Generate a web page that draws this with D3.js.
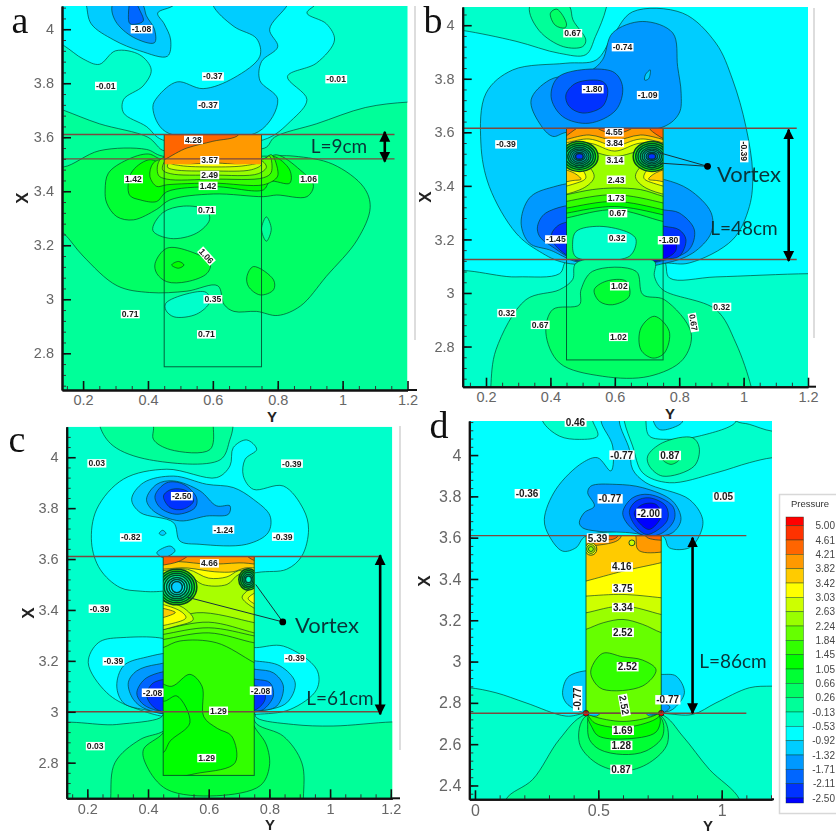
<!DOCTYPE html>
<html><head><meta charset="utf-8">
<script src="https://cdn.jsdelivr.net/npm/d3@7/dist/d3.min.js"></script>
<style>
html,body{margin:0;padding:0;background:#fff;overflow:hidden}
svg{display:block}
.field{filter:blur(.6px)}
</style></head><body>
<svg id="chart" width="836" height="836"></svg>
<script>
/* ---------- legend ---------- */
const legendLevels = [5.00,4.61,4.21,3.82,3.42,3.03,2.63,2.24,1.84,1.45,1.05,0.66,0.26,-0.13,-0.53,-0.92,-1.32,-1.71,-2.11,-2.50];
const colorStops = [-2.5,-0.53,1.45,3.42,5.39];
const colorRange = ["#0000ff","#00ffff","#00ff00","#ffff00","#ff0000"];

/* ---------- panel a : rings are [level, [[Y,X],...]] ---------- */
const ringsA = [
 [-0.13,[[.05,3.74],[.14,3.70],[.25,3.65],[.40,3.60],[.45,3.55],[.5,3.58],[.76,3.56],[.79,3.60],[.92,3.65],[1.07,3.71],[1.2,3.73],[1.3,3.73],[1.3,4.2],[.05,4.2]]],
 [-0.53,[[.05,4.0],[.14,3.94],[.2,3.89],[.25,3.87],[.30,3.92],[.375,3.905],[.41,3.85],[.385,3.79],[.325,3.74],[.325,3.69],[.395,3.64],[.445,3.59],[.755,3.59],[.84,3.66],[.89,3.74],[.83,3.825],[.92,3.875],[.975,3.96],[.95,4.02],[.89,4.06],[.92,4.1],[.9,4.2],[.05,4.2]]],
 [-0.92,[[.2,4.15],[.21,4.09],[.225,4.02],[.295,3.96],[.375,3.92],[.46,3.90],[.47,3.96],[.45,4.02],[.43,4.06],[.48,4.09],[.5,4.15]]],
 [-0.92,[[.6,4.15],[.6,4.09],[.665,4.01],[.735,3.965],[.745,3.90],[.665,3.82],[.57,3.78],[.49,3.805],[.43,3.75],[.415,3.71],[.455,3.62],[.74,3.62],[.8,3.74],[.745,3.81],[.75,3.88],[.8,3.935],[.775,4.0],[.83,4.09],[.85,4.15]]],
 [-1.32,[[.29,4.09],[.3,4.03],[.355,3.97],[.42,3.95],[.42,4.0],[.395,4.05],[.385,4.09],[.34,4.15]]],
 [-1.71,[[.34,4.06],[.345,4.02],[.385,4.03],[.375,4.07],[.35,4.12]]],
 [0.66,[[.08,3.5],[.14,3.49],[.25,3.55],[.395,3.555],[.445,3.53],[.755,3.53],[.85,3.53],[.97,3.50],[1.065,3.415],[1.085,3.34],[1.045,3.22],[.95,3.085],[.87,2.975],[.8,2.94],[.735,2.955],[.665,2.955],[.635,2.98],[.615,3.05],[.52,3.03],[.405,3.025],[.305,3.05],[.2,3.16],[.14,3.245],[.08,3.3]]],
 [0.26,[[.415,3.255],[.445,3.32],[.51,3.345],[.58,3.33],[.59,3.295],[.55,3.245],[.47,3.225]]],
 [0.26,[[.765,3.305],[.78,3.26],[.765,3.215],[.75,3.26]]],
 [-0.13,[[.455,2.985],[.52,3.02],[.58,3.025],[.59,2.99],[.55,2.945],[.48,2.935],[.455,2.96]]],
 [1.05,[[.268,3.405],[.278,3.467],[.335,3.516],[.401,3.538],[.448,3.516],[.756,3.516],[.797,3.535],[.869,3.479],[.91,3.423],[.89,3.38],[.797,3.386],[.756,3.38],[.602,3.39],[.468,3.368],[.427,3.333],[.355,3.294],[.304,3.306],[.273,3.356]]],
 [1.05,[[.422,3.133],[.458,3.189],[.53,3.177],[.592,3.133],[.582,3.096],[.52,3.065],[.458,3.065],[.427,3.096]]],
 [1.45,[[.473,3.127],[.494,3.14],[.511,3.127],[.494,3.115]]],
 [1.05,[[.705,3.084],[.725,3.121],[.787,3.072],[.787,3.035],[.746,3.016],[.71,3.047]]],
 [1.45,[[.343,3.386],[.348,3.467],[.401,3.516],[.448,3.504],[.756,3.504],[.786,3.529],[.837,3.479],[.837,3.43],[.776,3.436],[.756,3.405],[.602,3.417],[.458,3.398],[.427,3.362],[.376,3.368]]],
 [1.84,[[.406,3.455],[.416,3.504],[.448,3.52],[.756,3.52],[.781,3.535],[.801,3.467],[.796,3.449],[.756,3.424],[.602,3.43],[.458,3.424],[.427,3.418]]],
 [2.24,[[.432,3.46],[.44,3.52],[.756,3.52],[.775,3.53],[.78,3.47],[.756,3.45],[.602,3.445],[.458,3.445]]],
 [2.63,[[.445,3.48],[.46,3.52],[.74,3.52],[.765,3.49],[.74,3.465],[.6,3.46],[.47,3.465]]],
 [3.03,[[.46,3.49],[.48,3.525],[.73,3.525],[.75,3.50],[.72,3.48],[.6,3.475],[.48,3.48]]],
 [3.42,[[.47,3.505],[.49,3.53],[.72,3.53],[.745,3.51],[.7,3.495],[.6,3.49],[.5,3.495]]]
];
const wallRingsA = [
 [4.21,[[.38,3.51],[.6,3.505],[.82,3.51],[.82,3.7],[.38,3.7]]],
 [4.61,[[.38,3.49],[.52,3.56],[.6,3.585],[.68,3.61],[.68,3.68],[.38,3.68]]]
];
const wallA = [.45,.75,3.50,3.61];
const wallBaseA = [];
const eddiesA = [];
const tagsA = [["-1.08",.38,4.0,0],["-0.37",.6,3.825,0],["-0.37",.585,3.72,0],["-0.01",.27,3.79,0],["-0.01",.98,3.815,0],["4.28",.54,3.59,0],["3.57",.59,3.515,0],["2.49",.59,3.46,0],["1.42",.585,3.42,0],["1.42",.355,3.445,0],["1.06",.895,3.445,0],["0.71",.58,3.33,0],["1.06",.58,3.16,48],["0.35",.6,3.0,0],["0.71",.345,2.945,0],["0.71",.58,2.87,0]];

/* ---------- panel b ---------- */
const ringsB = [
 [-0.13,[[.05,3.06],[.293,3.06],[.428,3.072],[.454,3.125],[.749,3.125],[.77,3.056],[.914,3.06],[1.2,3.072],[1.3,3.07],[1.3,2.5],[.05,2.5]]],
 [-0.13,[[.05,3.99],[.13,3.98],[.293,3.94],[.428,3.895],[.51,3.89],[.54,3.958],[.573,4.063],[.58,4.15],[.05,4.15]]],
 [0.26,[[.335,4.07],[.365,3.98],[.44,3.92],[.5,3.92],[.51,3.945],[.47,4.02],[.46,4.07],[.4,4.15]]],
 [0.66,[[.4,4.045],[.42,4.06],[.45,4.005],[.445,3.99],[.415,4.0]]],
 [-0.92,[[.655,4.05],[.811,4.045],[.914,3.933],[.966,3.796],[1.007,3.622],[1.028,3.448],[1.018,3.323],[.966,3.199],[.831,3.112],[.754,3.112],[.448,3.112],[.366,3.155],[.293,3.224],[.21,3.398],[.184,3.56],[.2,3.746],[.283,3.833],[.448,3.858],[.542,3.87],[.593,3.958]]],
 [-1.32,[[.34,3.721],[.398,3.796],[.52,3.827],[.562,3.871],[.593,3.971],[.687,4.014],[.78,3.971],[.795,3.846],[.806,3.746],[.8,3.672],[.75,3.62],[.45,3.6],[.407,3.585],[.366,3.634]]],
 [-0.92,[[.695,3.815],[.71,3.833],[.705,3.80],[.693,3.795]]],
 [-1.71,[[.402,3.734],[.428,3.81],[.593,3.827],[.624,3.771],[.604,3.684],[.52,3.634],[.438,3.659]]],
 [-2.11,[[.448,3.74],[.48,3.784],[.562,3.79],[.578,3.759],[.562,3.697],[.5,3.672],[.458,3.697]]],
 [-1.32,[[.309,3.261],[.335,3.355],[.397,3.392],[.5,3.40],[.5,3.12],[.397,3.161],[.335,3.186]]],
 [-1.71,[[.36,3.249],[.386,3.299],[.5,3.32],[.5,3.12],[.397,3.18],[.366,3.212]]],
 [-2.11,[[.402,3.211],[.428,3.255],[.5,3.26],[.5,3.12],[.43,3.16]]],
 [-1.32,[[.755,3.423],[.831,3.386],[.899,3.3],[.899,3.224],[.842,3.149],[.759,3.112],[.7,3.11],[.7,3.43]]],
 [-1.71,[[.754,3.31],[.8,3.299],[.847,3.236],[.831,3.162],[.759,3.124],[.7,3.12],[.7,3.32]]],
 [-2.11,[[.754,3.249],[.8,3.236],[.821,3.199],[.8,3.137],[.754,3.127],[.7,3.12],[.7,3.26]]],
 [-2.50,[[.754,3.187],[.785,3.199],[.79,3.16],[.759,3.13],[.7,3.12],[.7,3.19]]],
 [0.26,[[.215,2.6],[.215,2.652],[.231,2.788],[.324,2.975],[.428,3.012],[.469,3.05],[.48,3.112],[.723,3.118],[.723,3.062],[.749,3.012],[.914,2.938],[.976,2.813],[1.023,2.652],[1.03,2.6]]],
 [0.66,[[.495,3.012],[.531,3.081],[.666,3.081],[.687,2.994],[.754,2.975],[.837,2.851],[.811,2.751],[.707,2.689],[.562,2.689],[.428,2.739],[.386,2.851],[.407,2.938],[.49,2.956]]],
 [1.05,[[.536,3.012],[.573,3.044],[.635,3.044],[.645,2.988],[.593,2.956],[.552,2.969]]],
 [1.05,[[.681,2.869],[.723,2.913],[.769,2.857],[.754,2.776],[.718,2.757],[.681,2.788]]]
];
const wallRingsB = [
 [-0.13,[[.469,3.187],[.48,3.23],[.552,3.249],[.645,3.224],[.666,3.199],[.645,3.137],[.48,3.134]]],
 [1.05,[[.38,3.26],[.45,3.28],[.6,3.311],[.75,3.267],[.82,3.25],[.82,3.75],[.38,3.75]]],
 [1.45,[[.38,3.28],[.45,3.298],[.6,3.323],[.75,3.292],[.82,3.27],[.82,3.75],[.38,3.75]]],
 [1.84,[[.38,3.30],[.45,3.317],[.6,3.342],[.75,3.311],[.82,3.29],[.82,3.75],[.38,3.75]]],
 [2.24,[[.38,3.32],[.45,3.342],[.6,3.367],[.75,3.336],[.82,3.31],[.82,3.75],[.38,3.75]]],
 [2.63,[[.38,3.35],[.45,3.367],[.53,3.386],[.6,3.392],[.68,3.386],[.75,3.361],[.82,3.34],[.82,3.75],[.38,3.75]]],
 [3.03,[[.38,3.515],[.5,3.49],[.536,3.435],[.5,3.39],[.38,3.37]]],
 [3.42,[[.38,3.495],[.49,3.47],[.51,3.43],[.48,3.41],[.38,3.395]]],
 [3.82,[[.38,3.47],[.47,3.45],[.495,3.425],[.47,3.42],[.38,3.41]]],
 [3.03,[[.82,3.515],[.7,3.49],[.664,3.435],[.7,3.39],[.82,3.37]]],
 [3.42,[[.82,3.495],[.71,3.47],[.69,3.43],[.72,3.41],[.82,3.395]]],
 [3.82,[[.82,3.47],[.73,3.45],[.705,3.425],[.73,3.42],[.82,3.41]]],
 [3.03,[[.38,3.52],[.5,3.535],[.6,3.51],[.7,3.535],[.82,3.52],[.82,3.75],[.38,3.75]]],
 [3.42,[[.38,3.55],[.52,3.56],[.6,3.53],[.68,3.56],[.82,3.55],[.82,3.75],[.38,3.75]]],
 [3.82,[[.38,3.56],[.52,3.575],[.6,3.55],[.68,3.575],[.82,3.56],[.82,3.75],[.38,3.75]]],
 [4.21,[[.38,3.57],[.52,3.59],[.6,3.57],[.68,3.59],[.82,3.57],[.82,3.75],[.38,3.75]]],
 [4.61,[[.40,3.56],[.47,3.605],[.5,3.64],[.40,3.68]]],
 [4.61,[[.54,3.625],[.6,3.595],[.66,3.625],[.6,3.68]]],
 [4.61,[[.80,3.56],[.71,3.61],[.70,3.64],[.80,3.68]]]
];
const wallB = [.45,.75,3.125,3.615];
const wallBaseB = [0.66];
const eddiesB = [
 [.49,3.51,.058,.056,1.84],[.49,3.51,.05,.048,1.05],[.49,3.51,.043,.041,.66],[.49,3.51,.036,.034,.26],[.49,3.51,.03,.028,-.13],[.49,3.51,.024,.022,-.53],[.49,3.51,.018,.016,-1.32],[.49,3.51,.012,.011,-2.11],
 [.715,3.51,.058,.056,1.84],[.715,3.51,.05,.048,1.05],[.715,3.51,.043,.041,.66],[.715,3.51,.036,.034,.26],[.715,3.51,.03,.028,-.13],[.715,3.51,.024,.022,-.53],[.715,3.51,.018,.016,-1.32],[.715,3.51,.012,.011,-2.11]
];
const tagsB = [["0.67",.469,3.97,0],["-0.74",.624,3.918,0],["-1.80",.531,3.761,0],["-1.09",.702,3.739,0],["-0.39",.262,3.555,0],["-0.39",1.002,3.529,90],["4.55",.598,3.6,0],["3.84",.599,3.56,0],["3.14",.6,3.495,0],["2.43",.604,3.423,0],["1.73",.604,3.354,0],["0.67",.609,3.298,0],["-1.45",.417,3.2,0],["0.32",.607,3.204,0],["-1.80",.767,3.197,0],["1.02",.614,3.025,0],["0.32",.264,2.925,0],["0.67",.368,2.881,0],["0.32",.932,2.948,0],["0.67",.844,2.89,80],["1.02",.611,2.836,0]];

/* ---------- panel c ---------- */
const ringsC = [
 [0.26,[[.242,4.12],[.285,4.045],[.405,3.99],[.638,3.99],[.67,4.07],[.68,4.12],[.68,4.2],[.24,4.2]]],
 [0.66,[[.418,4.12],[.418,4.07],[.473,4.03],[.604,4.03],[.615,4.12],[.6,4.2],[.4,4.2]]],
 [-0.53,[[.214,3.664],[.231,3.796],[.319,3.914],[.462,3.953],[.626,3.92],[.67,3.966],[.681,4.038],[.725,4.068],[.758,4.031],[.72,3.992],[.714,3.927],[.747,3.874],[.846,3.887],[.912,3.796],[.929,3.717],[.907,3.612],[.857,3.56],[.758,3.547],[.45,3.474],[.374,3.474],[.308,3.488],[.242,3.56]]],
 [-0.92,[[.346,3.835],[.385,3.9],[.484,3.926],[.593,3.894],[.681,3.881],[.747,3.835],[.802,3.77],[.796,3.704],[.725,3.658],[.571,3.658],[.505,3.671],[.484,3.743],[.374,3.783]]],
 [-0.92,[[.429,3.625],[.473,3.651],[.489,3.632],[.451,3.606]]],
 [-0.92,[[.437,3.7],[.448,3.713],[.459,3.701],[.448,3.693]]],
 [-1.32,[[.395,3.835],[.429,3.894],[.484,3.907],[.571,3.868],[.626,3.809],[.67,3.809],[.665,3.776],[.593,3.769],[.505,3.75],[.418,3.789]]],
 [-1.71,[[.423,3.848],[.462,3.9],[.516,3.894],[.56,3.841],[.555,3.802],[.495,3.776],[.44,3.802]]],
 [-2.11,[[.451,3.848],[.478,3.874],[.527,3.868],[.55,3.828],[.516,3.796],[.473,3.802]]],
 [-0.53,[[.203,3.193],[.236,3.271],[.308,3.291],[.5,3.26],[.5,2.99],[.352,3.016],[.264,3.075]]],
 [-0.92,[[.297,3.101],[.319,3.18],[.385,3.212],[.5,3.22],[.5,3.0],[.385,3.009],[.319,3.035]]],
 [-1.32,[[.335,3.114],[.362,3.16],[.429,3.186],[.5,3.186],[.5,3.0],[.396,3.009],[.352,3.048]]],
 [-1.71,[[.363,3.075],[.396,3.134],[.5,3.153],[.5,3.0],[.418,3.009],[.379,3.035]]],
 [-2.11,[[.396,3.062],[.418,3.114],[.5,3.12],[.5,3.0],[.429,3.009]]],
 [-0.53,[[.758,3.252],[.846,3.258],[.956,3.166],[.956,3.088],[.868,3.009],[.758,2.99],[.7,2.99],[.7,3.25]]],
 [-0.92,[[.758,3.199],[.835,3.18],[.885,3.114],[.857,3.035],[.769,3.003],[.7,3.0],[.7,3.2]]],
 [-1.32,[[.758,3.166],[.813,3.153],[.846,3.101],[.824,3.022],[.758,3.003],[.7,3.0],[.7,3.17]]],
 [-1.71,[[.758,3.127],[.802,3.114],[.813,3.062],[.78,3.009],[.758,3.003],[.7,3.0],[.7,3.13]]],
 [-2.11,[[.758,3.101],[.78,3.088],[.786,3.049],[.758,3.01],[.7,3.0],[.7,3.1]]],
 [0.26,[[.05,2.93],[.297,2.95],[.44,2.976],[.46,3.0],[.747,3.0],[.758,2.976],[.879,2.95],[1.01,2.944],[1.204,2.96],[1.3,2.96],[1.3,2.5],[.05,2.5]]],
 [0.66,[[.277,2.66],[.291,2.8],[.374,2.891],[.45,2.924],[.473,2.963],[.47,3.0],[.73,3.0],[.76,2.95],[.846,2.904],[.907,2.799],[.912,2.66],[.9,2.5],[.28,2.5]]],
 [1.05,[[.385,2.852],[.45,2.918],[.46,2.98],[.72,2.98],[.76,2.924],[.79,2.87],[.8,2.786],[.77,2.71],[.626,2.67],[.462,2.695],[.396,2.786]]]
];
const wallRingsC = [
 [1.45,[[.42,3.115],[.478,3.10],[.538,3.147],[.578,3.10],[.584,2.98],[.628,2.935],[.676,2.904],[.687,2.80],[.571,2.76],[.42,2.754]]],
 [1.45,[[.42,3.04],[.456,3.042],[.495,3.062],[.538,2.957],[.473,2.885],[.45,2.84],[.42,2.85]]],
 [1.95,[[.38,3.22],[.45,3.252],[.505,3.278],[.626,3.271],[.75,3.193],[.82,3.15],[.82,3.75],[.38,3.75]]],
 [2.10,[[.38,3.27],[.45,3.284],[.6,3.31],[.75,3.271],[.82,3.26],[.82,3.75],[.38,3.75]]],
 [2.24,[[.38,3.29],[.45,3.304],[.6,3.33],[.75,3.298],[.82,3.28],[.82,3.75],[.38,3.75]]],
 [2.45,[[.38,3.31],[.45,3.324],[.6,3.352],[.75,3.31],[.82,3.29],[.82,3.75],[.38,3.75]]],
 [2.75,[[.38,3.33],[.45,3.343],[.56,3.389],[.75,3.35],[.82,3.33],[.82,3.75],[.38,3.75]]],
 [3.03,[[.38,3.44],[.45,3.435],[.516,3.409],[.549,3.363],[.495,3.337],[.38,3.32]]],
 [3.42,[[.38,3.425],[.5,3.40],[.525,3.37],[.49,3.35],[.38,3.34]]],
 [3.82,[[.38,3.41],[.49,3.39],[.38,3.36]]],
 [3.03,[[.82,3.52],[.71,3.45],[.82,3.38]]],
 [3.42,[[.82,3.49],[.73,3.445],[.82,3.40]]],
 [3.03,[[.38,3.56],[.53,3.54],[.58,3.5],[.66,3.5],[.70,3.54],[.82,3.56],[.82,3.75],[.38,3.75]]],
 [3.42,[[.38,3.565],[.53,3.56],[.6,3.525],[.66,3.53],[.7,3.555],[.82,3.565],[.82,3.75],[.38,3.75]]],
 [3.82,[[.38,3.575],[.53,3.565],[.62,3.55],[.68,3.55],[.72,3.565],[.82,3.575],[.82,3.75],[.38,3.75]]],
 [4.21,[[.38,3.59],[.5,3.59],[.6,3.58],[.7,3.585],[.82,3.59],[.82,3.75],[.38,3.75]]],
 [4.61,[[.38,3.585],[.5,3.59],[.54,3.63],[.38,3.68]]],
 [4.61,[[.82,3.585],[.74,3.6],[.72,3.63],[.82,3.68]]]
];
const wallC = [.45,.75,2.75,3.61];
const wallBaseC = [1.84];
const eddiesC = [
 [.495,3.49,.066,.07,1.84],[.495,3.49,.058,.062,1.05],[.495,3.49,.05,.054,.66],[.495,3.49,.042,.046,.26],[.495,3.49,.034,.038,-.13],[.495,3.49,.026,.03,-.53],[.495,3.49,.018,.022,-.92],
 [.731,3.52,.032,.042,1.84],[.731,3.52,.026,.035,1.05],[.731,3.52,.02,.028,.66],[.731,3.52,.015,.02,.26],[.731,3.52,.01,.013,-.13]
];
const tagsC = [["0.03",.231,3.976,0],["-0.39",.874,3.975,0],["-2.50",.511,3.847,0],["-0.82",.343,3.685,0],["-1.24",.648,3.716,0],["-0.39",.844,3.688,0],["4.66",.602,3.583,0],["-0.39",.24,3.405,0],["-0.39",.286,3.198,0],["-0.39",.884,3.21,0],["-2.08",.415,3.075,0],["-2.08",.771,3.083,0],["1.29",.632,3.004,0],["0.03",.226,2.865,0],["1.29",.593,2.818,0]];

/* ---------- panel d ---------- */
const ringsD = [
 [-0.13,[[-.1,2.87],[-.023,2.873],[.085,2.849],[.207,2.8],[.369,2.736],[.45,2.749],[.754,2.749],[.882,2.744],[.977,2.8],[1.112,2.873],[1.204,2.881],[1.3,2.88],[1.3,2.2],[-.1,2.2]]],
 [0.26,[[.126,2.333],[.234,2.429],[.342,2.623],[.45,2.745],[.754,2.745],[.842,2.639],[.95,2.478],[1.072,2.333],[1.08,2.2],[.12,2.2]]],
 [0.66,[[.423,2.607],[.45,2.737],[.754,2.737],[.781,2.607],[.707,2.51],[.599,2.47],[.49,2.51]]],
 [1.05,[[.457,2.688],[.464,2.737],[.747,2.737],[.761,2.639],[.693,2.567],[.599,2.55],[.504,2.575],[.464,2.623]]],
 [1.45,[[.475,2.68],[.46,2.74],[.745,2.74],[.735,2.66],[.6,2.625],[.5,2.64]]],
 [1.84,[[.47,2.72],[.46,2.745],[.75,2.745],[.73,2.72],[.6,2.68],[.49,2.70]]],
 [2.24,[[.48,2.735],[.46,2.75],[.74,2.75],[.72,2.735],[.6,2.71]]],
 [-0.13,[[.605,4.165],[.639,4.044],[.68,3.914],[.788,3.866],[.977,3.914],[1.112,3.963],[1.204,3.987],[1.3,3.99],[1.3,4.12],[1.204,4.116],[1.112,4.149],[1.058,4.165],[1.0,4.25],[.6,4.25]]],
 [-0.53,[[.693,4.165],[.707,4.092],[.788,4.076],[.909,4.092],[1.058,4.165],[1.0,4.25],[.7,4.25]]],
 [-0.92,[[.723,4.165],[.747,4.124],[.801,4.132],[.842,4.165],[.8,4.25],[.72,4.25]]],
 [0.26,[[.7,3.995],[.761,4.06],[.882,4.084],[.909,4.036],[.889,3.947],[.761,3.898],[.707,3.947]]],
 [0.66,[[.761,3.979],[.801,4.003],[.828,3.979],[.795,3.955]]],
 [-0.13,[[.274,4.165],[.342,4.092],[.423,4.076],[.497,4.092],[.477,4.165],[.45,4.25],[.27,4.25]]],
 [-0.92,[[.281,3.688],[.328,3.834],[.436,3.963],[.497,3.987],[.551,3.923],[.558,4.044],[.511,4.165],[.52,4.25],[.6,4.25],[.585,4.165],[.626,4.027],[.639,3.931],[.693,3.866],[.869,3.785],[.923,3.688],[.909,3.608],[.869,3.551],[.788,3.551],[.761,3.608],[.45,3.608],[.409,3.551],[.355,3.535],[.301,3.608]]],
 [-1.32,[[.423,3.672],[.443,3.721],[.484,3.753],[.457,3.818],[.47,3.85],[.572,3.858],[.68,3.842],[.801,3.777],[.835,3.688],[.801,3.624],[.734,3.608],[.626,3.624],[.491,3.632],[.436,3.648]]],
 [-1.71,[[.599,3.721],[.639,3.793],[.707,3.809],[.801,3.753],[.808,3.688],[.761,3.624],[.693,3.608],[.626,3.656]]],
 [-2.11,[[.626,3.729],[.653,3.777],[.707,3.793],[.774,3.753],[.781,3.688],[.734,3.632],[.693,3.616],[.646,3.664]]],
 [-2.50,[[.646,3.721],[.68,3.761],[.734,3.761],[.755,3.705],[.707,3.64],[.666,3.672]]],
 [-0.92,[[.355,2.849],[.382,2.93],[.5,2.945],[.5,2.74],[.409,2.768],[.369,2.801]]],
 [-0.92,[[.754,2.938],[.815,2.93],[.849,2.849],[.801,2.768],[.754,2.752],[.7,2.74],[.7,2.94]]],
 [-1.32,[[.75,2.8],[.79,2.78],[.76,2.75],[.7,2.75]]]
];
const wallRingsD = [
 [1.84,[[.47,2.96],[.518,3.04],[.599,3.023],[.68,3.007],[.734,2.96],[.68,2.882],[.518,2.866],[.477,2.915]]],
 [2.63,[[.38,3.13],[.45,3.156],[.52,3.188],[.6,3.204],[.68,3.18],[.755,3.14],[.82,3.12],[.82,3.75],[.38,3.75]]],
 [3.03,[[.38,3.22],[.45,3.236],[.6,3.269],[.755,3.228],[.82,3.21],[.82,3.75],[.38,3.75]]],
 [3.42,[[.38,3.31],[.45,3.317],[.6,3.325],[.755,3.309],[.82,3.30],[.82,3.75],[.38,3.75]]],
 [3.82,[[.38,3.37],[.45,3.39],[.6,3.438],[.755,3.479],[.82,3.50],[.82,3.75],[.38,3.75]]],
 [4.21,[[.38,3.58],[.52,3.567],[.59,3.6],[.58,3.7],[.38,3.7]]],
 [4.21,[[.653,3.6],[.66,3.543],[.7,3.527],[.82,3.56],[.82,3.7],[.65,3.7]]],
 [4.61,[[.69,3.61],[.72,3.592],[.82,3.6],[.76,3.7],[.69,3.7]]],
 [4.61,[[.51,3.61],[.55,3.59],[.58,3.61],[.55,3.68]]]
];
const wallD = [.45,.755,2.75,3.61];
const wallBaseD = [2.24];
const eddiesD = [
 [.47,3.545,.024,.03,3.42],[.47,3.545,.017,.021,3.03],[.47,3.545,.01,.012,2.63],
 [.636,3.575,.012,.014,3.03]
];
const spotsD = [[.45,2.75,.011,.014,5.39],[.755,2.75,.011,.014,5.39]];
const tagsD = [["0.46",.407,4.16,0],["-0.77",.595,4.0,0],["0.87",.79,3.998,0],["-0.36",.211,3.813,0],["-0.77",.547,3.788,0],["0.05",1.007,3.797,0],["-2.00",.704,3.718,0],["5.39",.497,3.598,0],["4.16",.595,3.458,0],["3.75",.599,3.354,0],["3.34",.599,3.262,0],["2.52",.599,3.141,0],["2.52",.618,2.975,0],["-0.77",.416,2.82,-90],["-0.77",.781,2.815,0],["2.52",.605,2.79,80],["1.69",.599,2.667,0],["1.28",.593,2.594,0],["0.87",.592,2.478,0]];

/* ---------- axes ---------- */
const yTicksABC = [.2,.4,.6,.8,1,1.2];
const xTicksABC = [4,3.8,3.6,3.4,3.2,3,2.8];
const yTicksD = [0,.5,1];
const xTicksD = [4,3.8,3.6,3.4,3.2,3,2.8,2.6,2.4];

/* ---------- table of panels ---------- */
const panels = [
 {id:"a",letter:[20,33],box:[62,6,407.5,390],yDom:[.135,1.2],xDom:[2.664,4.086],base:[0.26],yT:yTicksABC,xT:xTicksABC,yMinor:.05,
  rings:ringsA,wallRings:wallRingsA,wall:wallA,wallBase:wallBaseA,eddies:eddiesA,spots:[],tags:tagsA,
  outline:[.45,.75,3.61,2.75],hlines:[3.61,3.52],hEnd:1.16,arrow:[1.13,3.62,3.51],len:["L=9cm",339,146],vortex:null,
  yLab:[272,417],xLab:[22,198],tail:417,tagFont:8.6,tickFont:14.5,eddyW:.9,bracket:[415,6,415,340]},
 {id:"b",letter:[433,33],box:[462.7,7,808,386.7],yDom:[.1276,1.2],xDom:[2.65,4.068],base:[-0.53],yT:yTicksABC,xT:xTicksABC,yMinor:.05,
  rings:ringsB,wallRings:wallRingsB,wall:wallB,wallBase:wallBaseB,eddies:eddiesB,spots:[],tags:tagsB,
  outline:[.45,.75,3.615,2.75],hlines:[3.615,3.125],hEnd:1.165,arrow:[1.14,3.61,3.12],len:["L=48cm",744,228],
  vortex:{at:[.888,3.473],from:[[.735,3.525],[.74,3.485]],text:[749,174]},
  yLab:[670,414],xLab:[425,197],tail:816,tagFont:8.6,tickFont:14.5,eddyW:1.5,bracket:[814,8,814,338]},
 {id:"c",letter:[17,452],box:[66.7,426.7,392.3,798.3],yDom:[.132,1.205],xDom:[2.66,4.12],base:[-0.13],yT:yTicksABC,xT:xTicksABC,yMinor:.05,
  rings:ringsC,wallRings:wallRingsC,wall:wallC,wallBase:wallBaseC,eddies:eddiesC,spots:[],tags:tagsC,
  outline:[.45,.75,3.61,2.75],hlines:[3.61,3.0],hEnd:1.165,arrow:[1.165,3.615,2.99],len:["L=61cm",340,698],
  vortex:{at:[.844,3.353],from:[[.755,3.5],[.53,3.45]],text:[327,625]},
  yLab:[270,825],xLab:[28,613],tail:400,tagFont:8.6,tickFont:14.5,eddyW:1.5,bracket:[400,426,400,750]},
 {id:"d",letter:[439,438],box:[469.3,421,772,799.3],yDom:[-.023,1.204],xDom:[2.333,4.165],base:[-0.53],yT:yTicksD,xT:xTicksD,yMinor:.1,
  rings:ringsD,wallRings:wallRingsD,wall:wallD,wallBase:wallBaseD,eddies:eddiesD,spots:spotsD,tags:tagsD,
  outline:[.45,.755,3.61,2.75],hlines:[3.61,2.75],hEnd:1.1,arrow:[.882,3.6,2.75],len:["L=86cm",733,661],vortex:null,
  yLab:[708,826],xLab:[424,581],tail:774,tagFont:10,tickFont:16,eddyW:.9,bracket:null}
];

/* ---------- drawing ---------- */
const svg = d3.select("#chart");
const color = d3.scaleLinear().domain(colorStops).range(colorRange);
const lineColor = "rgba(0,55,40,.8)";
const ringPath = d3.line().curve(d3.curveCatmullRomClosed.alpha(.5));
const defs = svg.append("defs");
const mk = (id,orient)=>defs.append("marker").attr("id",id).attr("viewBox","0 0 10 10").attr("refX",9).attr("refY",5)
  .attr("markerWidth",4.2).attr("markerHeight",4.6).attr("orient",orient).append("path").attr("d","M0,0L10,5L0,10Z").attr("fill","#000");
mk("tip","auto"); mk("tipS","auto-start-reverse");

panels.forEach(p=>{
  const [l,t,r,b] = p.box;
  const sx = d3.scaleLinear().domain(p.yDom).range([l,r]);
  const sy = d3.scaleLinear().domain(p.xDom).range([b,t]);
  const pts = a=>a.map(d=>[sx(d[0]),sy(d[1])]);
  const clipField = "field-"+p.id, clipWall = "wall-"+p.id;
  defs.append("clipPath").attr("id",clipField).append("rect").attr("x",l).attr("y",t).attr("width",r-l).attr("height",b-t);
  const [w0,w1,wb,wt] = p.wall;
  defs.append("clipPath").attr("id",clipWall).append("rect").attr("x",sx(w0)).attr("y",sy(wt)).attr("width",sx(w1)-sx(w0)).attr("height",sy(wb)-sy(wt));

  const f = svg.append("g").attr("class","field").attr("clip-path",`url(#${clipField})`);
  f.selectAll("rect.base").data(p.base).join("rect").attr("class","base")
    .attr("x",l).attr("y",t).attr("width",r-l).attr("height",b-t).attr("fill",d=>color(d));
  const ring = (g,data)=>g.selectAll("path.ring").data(data).join("path").attr("class","ring")
    .attr("d",d=>ringPath(pts(d[1]))).attr("fill",d=>color(d[0])).attr("stroke",lineColor).attr("stroke-width",.8);
  const eddy = (g,data)=>g.selectAll("ellipse").data(data).join("ellipse")
    .attr("cx",d=>sx(d[0])).attr("cy",d=>sy(d[1]))
    .attr("rx",d=>sx(d[0]+d[2])-sx(d[0])).attr("ry",d=>sy(d[1])-sy(d[1]+d[3]))
    .attr("fill",d=>color(d[4])).attr("stroke","rgba(0,50,35,.9)").attr("stroke-width",p.eddyW);
  ring(f.append("g"),p.rings);
  const w = f.append("g").attr("clip-path",`url(#${clipWall})`);
  w.selectAll("rect").data(p.wallBase).join("rect")
    .attr("x",sx(w0)).attr("y",sy(wt)).attr("width",sx(w1)-sx(w0)).attr("height",sy(wb)-sy(wt)).attr("fill",d=>color(d));
  ring(w.append("g"),p.wallRings);
  eddy(w.append("g"),p.eddies);
  eddy(f.append("g"),p.spots);

  const [o0,o1,oT,oB] = p.outline;
  f.append("rect").attr("x",sx(o0)).attr("y",sy(oT)).attr("width",sx(o1)-sx(o0)).attr("height",sy(oB)-sy(oT))
    .attr("fill","none").attr("stroke","rgba(0,60,40,.8)").attr("stroke-width",1);

  const over = svg.append("g").attr("class","field");
  over.selectAll("line.h").data(p.hlines).join("line").attr("class","h")
    .attr("x1",l).attr("x2",sx(p.hEnd)).attr("y1",d=>sy(d)).attr("y2",d=>sy(d))
    .attr("stroke","#7a4a40").attr("stroke-width",1.4);

  // value tags on the contours
  const tag = over.selectAll("g.tag").data(p.tags).join("g").attr("class","tag")
    .attr("transform",d=>`translate(${sx(d[1])},${sy(d[2])}) rotate(${d[3]})`);
  tag.append("text").attr("text-anchor","middle").attr("dy","0.35em")
    .attr("font-family","Liberation Sans, Arial, sans-serif").attr("font-weight","bold")
    .attr("font-size",p.tagFont).attr("fill","#1a1a1a").text(d=>d[0]);
  tag.each(function(){
    const g=d3.select(this), bb=g.select("text").node().getBBox();
    g.insert("rect","text").attr("x",bb.x-1).attr("y",bb.y+.8).attr("width",bb.width+2).attr("height",bb.height-1.6).attr("fill","#fff");
  });

  // double-headed length arrow
  const [ay,a0,a1] = p.arrow;
  over.append("line").attr("x1",sx(ay)).attr("x2",sx(ay)).attr("y1",sy(a0)).attr("y2",sy(a1))
    .attr("stroke","#000").attr("stroke-width",2.6)
    .attr("marker-start","url(#tipS)").attr("marker-end","url(#tip)");
  const lab = {"font-family":"Lato, Open Sans, sans-serif","fill":"#0a3438"};
  svg.append("text").attr("x",p.len[1]).attr("y",p.len[2]).attr("dy","0.35em").attr("text-anchor","middle")
    .attr("font-family",lab["font-family"]).attr("fill",lab.fill).attr("font-size",19).text(p.len[0]);

  if(p.vortex){
    const v=p.vortex;
    over.selectAll("line.v").data(v.from).join("line").attr("class","v")
      .attr("x1",d=>sx(d[0])).attr("y1",d=>sy(d[1])).attr("x2",sx(v.at[0])).attr("y2",sy(v.at[1]))
      .attr("stroke","#17333a").attr("stroke-width",1);
    over.append("circle").attr("cx",sx(v.at[0])).attr("cy",sy(v.at[1])).attr("r",3.4).attr("fill","#000");
    svg.append("text").attr("x",v.text[0]).attr("y",v.text[1]).attr("dy","0.35em").attr("text-anchor","middle")
      .attr("font-family",lab["font-family"]).attr("fill",lab.fill).attr("font-size",22).text("Vortex");
  }

  // axes: inward ticks, gray labels
  const fmt = d=>String(d);
  const minorY = d3.range(Math.ceil(p.yDom[0]/p.yMinor)*p.yMinor,p.yDom[1],p.yMinor);
  const minorX = d3.range(Math.ceil(p.xDom[0]/.04)*.04,p.xDom[1],.04);
  const gb = svg.append("g").attr("transform",`translate(0,${b})`);
  gb.call(d3.axisBottom(sx).tickValues(minorY).tickSize(-4).tickSizeOuter(0).tickFormat(""));
  gb.call(g=>g.selectAll(".tick line").attr("stroke","#333"));
  const gbM = svg.append("g").attr("transform",`translate(0,${b})`);
  gbM.call(d3.axisBottom(sx).tickValues(p.yT).tickSize(-9).tickSizeOuter(0).tickPadding(5).tickFormat(fmt));
  const gl = svg.append("g").attr("transform",`translate(${l},0)`);
  gl.call(d3.axisLeft(sy).tickValues(minorX).tickSize(-4).tickSizeOuter(0).tickFormat(""));
  gl.call(g=>g.selectAll(".tick line").attr("stroke","#333"));
  const glM = svg.append("g").attr("transform",`translate(${l},0)`);
  glM.call(d3.axisLeft(sy).tickValues(p.xT).tickSize(-9).tickSizeOuter(0).tickPadding(8).tickFormat(fmt));
  [gb,gbM,gl,glM].forEach(g=>{
    g.select(".domain").attr("stroke","#111").attr("stroke-width",2);
    g.selectAll(".tick text").attr("font-family","Liberation Sans, Arial, sans-serif").attr("font-size",p.tickFont).attr("fill","#666");
  });
  [gbM,glM].forEach(g=>g.selectAll(".tick line").attr("stroke","#111").attr("stroke-width",1.6));
  svg.append("line").attr("x1",r).attr("x2",p.tail).attr("y1",b).attr("y2",b).attr("stroke","#111").attr("stroke-width",2);

  // axis titles and panel letter
  svg.append("text").attr("x",p.yLab[0]).attr("y",p.yLab[1]).attr("dy","0.35em").attr("text-anchor","middle")
    .attr("font-family","Liberation Sans, Arial, sans-serif").attr("font-weight","bold").attr("font-size",15).attr("fill","#222").text("Y");
  svg.append("text").attr("transform",`translate(${p.xLab[0]},${p.xLab[1]}) rotate(-90)`).attr("dy","0.35em").attr("text-anchor","middle")
    .attr("font-family","Liberation Sans, Arial, sans-serif").attr("font-weight","bold").attr("font-size",17).attr("fill","#222").text("X");
  svg.append("text").attr("x",p.letter[0]).attr("y",p.letter[1]).attr("text-anchor","middle")
    .attr("font-family","Liberation Serif, serif").attr("font-size",38).attr("fill","#111").text(p.id);
  if(p.bracket){
    const k=p.bracket;
    svg.append("line").attr("x1",k[0]).attr("y1",k[1]).attr("x2",k[2]).attr("y2",k[3]).attr("stroke","#cfcfcf").attr("stroke-width",1.4);
  }
});

/* ---------- legend ---------- */
const lg = svg.append("g");
lg.append("rect").attr("x",779.5).attr("y",494.5).attr("width",70).attr("height",319).attr("fill","#fff").attr("stroke","#d8d8d8").attr("stroke-width",1.5);
lg.append("text").attr("x",791).attr("y",507).attr("font-family","Liberation Sans, Arial, sans-serif").attr("font-size",9.5).attr("fill","#333").text("Pressure");
const ly = d3.scalePoint().domain(legendLevels).range([525.7,798]);
const bandColor = [5.39,...legendLevels];
const bandTop = (d,i)=> i===0 ? 517 : ly(legendLevels[i-1]);
const bandBot = (d,i)=> i===bandColor.length-1 ? 803 : ly(legendLevels[i]);
lg.selectAll("rect.sw").data(bandColor).join("rect").attr("class","sw")
  .attr("x",786).attr("width",17.5).attr("y",bandTop).attr("height",(d,i)=>bandBot(d,i)-bandTop(d,i))
  .attr("fill",d=>color(d)).attr("stroke","rgba(0,50,30,.55)").attr("stroke-width",.7);
lg.selectAll("text.lv").data(legendLevels).join("text").attr("class","lv")
  .attr("x",835).attr("y",d=>ly(d)).attr("dy","0.35em").attr("text-anchor","end")
  .attr("font-family","Liberation Sans, Arial, sans-serif").attr("font-size",10).attr("fill","#444").text(d=>d.toFixed(2));
</script>
</body></html>
